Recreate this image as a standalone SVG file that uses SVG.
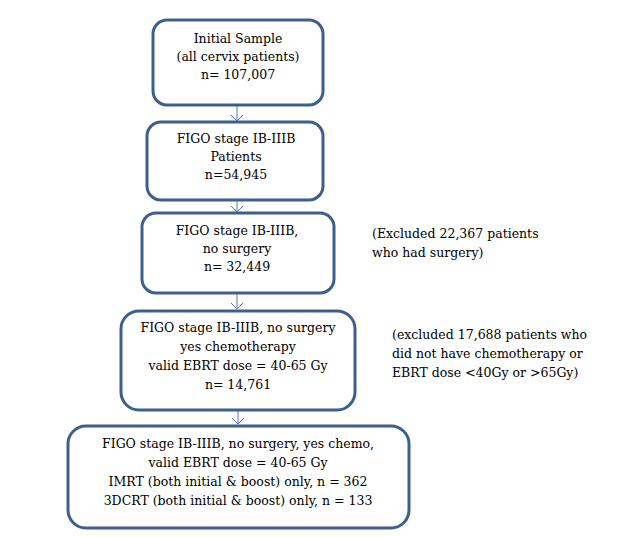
<svg xmlns="http://www.w3.org/2000/svg" width="627" height="537" viewBox="0 0 627 537">
<style>
.b{fill:#fff;stroke:#3d5f8c;stroke-width:3}
text{font-family:"DejaVu Serif","Liberation Serif",serif;font-size:12.5px;fill:#000;text-anchor:middle}
.l{text-anchor:start}
.c{stroke:#4f7bbd;stroke-width:1;fill:none}
</style>
<rect width="627" height="537" fill="#fff"/>
<g id="connectors">
<path class="c" d="M237 105V121M231 115L237 121L243 115"/>
<path class="c" d="M237 200V212M231 206L237 212L243 206"/>
<path class="c" d="M237 293V309M231 303L237 309L243 303"/>
<path class="c" d="M238 410V424M232 418L238 424L244 418"/>
</g>
<g id="n1"><rect class="b" x="153" y="20" width="170" height="85" rx="14"/>
<text x="238" y="43">Initial Sample</text><text x="238" y="61">(all cervix patients)</text><text x="238" y="79">n= 107,007</text></g>
<g id="n2"><rect class="b" x="147" y="122" width="176" height="78" rx="14"/>
<text x="236" y="143">FIGO stage IB-IIIB</text><text x="236" y="161">Patients</text><text x="236" y="179">n=54,945</text></g>
<g id="n3"><rect class="b" x="142" y="213" width="192" height="80" rx="14"/>
<text x="237" y="235">FIGO stage IB-IIIB,</text><text x="237" y="253">no surgery</text><text x="237" y="271">n= 32,449</text></g>
<g id="n4"><rect class="b" x="121" y="311" width="234" height="99" rx="18"/>
<text x="238" y="332">FIGO stage IB-IIIB, no surgery</text><text x="238" y="351">yes chemotherapy</text><text x="238" y="370">valid EBRT dose = 40-65 Gy</text><text x="238" y="389">n= 14,761</text></g>
<g id="n5"><rect class="b" x="68" y="426" width="341" height="102" rx="18"/>
<text x="238" y="448">FIGO stage IB-IIIB, no surgery, yes chemo,</text><text x="238" y="467">valid EBRT dose = 40-65 Gy</text><text x="238" y="486">IMRT (both initial &amp; boost) only, n = 362</text><text x="238" y="505">3DCRT (both initial &amp; boost) only, n = 133</text></g>
<g id="side1"><text class="l" x="372" y="238">(Excluded 22,367 patients</text><text class="l" x="372" y="257">who had surgery)</text></g>
<g id="side2"><text class="l" x="392" y="339">(excluded 17,688 patients who</text><text class="l" x="392" y="358">did not have chemotherapy or</text><text class="l" x="392" y="377">EBRT dose &lt;40Gy or &gt;65Gy)</text></g>
</svg>
